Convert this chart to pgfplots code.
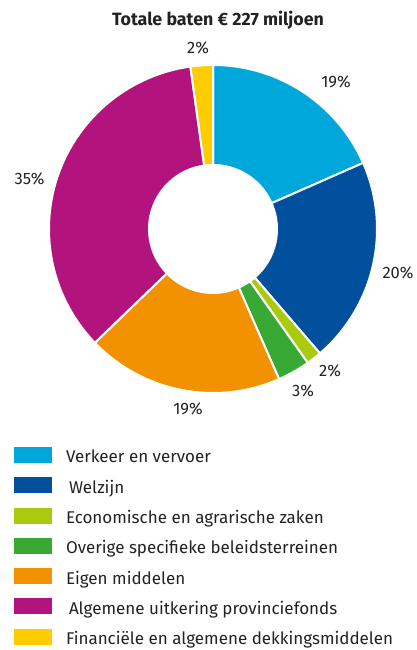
\documentclass[border=0pt]{standalone}
\usepackage{pgfplots}
\usepackage{pgfplotstable}
\pgfplotsset{compat=1.18}
\usepackage{fontspec}
\setmainfont{Fira Sans}
\definecolor{cVerkeer}{HTML}{00A7DA}
\definecolor{cWelzijn}{HTML}{01509D}
\definecolor{cEcon}{HTML}{AACA0E}
\definecolor{cOverig}{HTML}{39A935}
\definecolor{cEigen}{HTML}{F39200}
\definecolor{cAlg}{HTML}{B2137D}
\definecolor{cFin}{HTML}{FFCC00}
\definecolor{cText}{HTML}{222222}
\pgfplotstableread[col sep=comma]{
name,value,color
Verkeer en vervoer,18.4,cVerkeer
Welzijn,20.3,cWelzijn
Economische en agrarische zaken,1.5,cEcon
Overige specifieke beleidsterreinen,3.2,cOverig
Eigen middelen,19.4,cEigen
Algemene uitkering provinciefonds,35.0,cAlg
Financiële en algemene dekkingsmiddelen,2.2,cFin
}\baten
\begin{document}
\begin{tikzpicture}
\begin{axis}[
  width=417pt, height=650pt, scale only axis,
  xmin=0, xmax=417, ymin=0, ymax=650,
  hide axis, clip=false,
  legend style={draw=none, fill=none, at={(axis cs:14,203)}, anchor=north west,
    inner sep=0pt, outer sep=0pt,
    font=\fontsize{17}{20}\selectfont, text=cText, row sep=10.3pt, column sep=14pt,
    nodes={inner sep=0pt, outer sep=0pt, text height=12pt, text depth=4pt}},
  legend cell align=left,
  legend image code/.code={\fill[#1,draw=none] (0pt,-4pt) rectangle (38pt,12pt);},
]
\coordinate (BL) at (axis cs:0,0);
\coordinate (TR) at (axis cs:417,650);
\addlegendimage{fill=cVerkeer}
\addlegendimage{fill=cWelzijn}
\addlegendimage{fill=cEcon}
\addlegendimage{fill=cOverig}
\addlegendimage{fill=cEigen}
\addlegendimage{fill=cAlg}
\addlegendimage{fill=cFin}
\legend{Verkeer en vervoer,\hspace{3pt}Welzijn,Economische en agrarische zaken,Overige specifieke beleidsterreinen,Eigen middelen,\hspace{3pt}Algemene uitkering provinciefonds,Financiële en algemene dekkingsmiddelen}
\def\wAcc{90}
\pgfplotsforeachungrouped \i in {0,...,6}{%
  \pgfplotstablegetelem{\i}{value}\of\baten \let\wV\pgfplotsretval
  \pgfplotstablegetelem{\i}{color}\of\baten \let\wC\pgfplotsretval
  \pgfmathsetmacro\wS{\wAcc}%
  \pgfmathsetmacro\wE{\wAcc-3.6*\wV}%
  \edef\wTemp{\noexpand\fill[\wC, draw=white, line width=2pt] ([shift={(\wS:164pt)}]axis cs:213,421) arc[start angle=\wS, end angle=\wE, radius=164pt] -- ([shift={(\wE:64pt)}]axis cs:213,421) arc[start angle=\wE, end angle=\wS, radius=64pt] -- cycle;}%
  \wTemp
  \global\let\wAcc\wE
}
\node[font=\bfseries\fontsize{17.8}{20}\selectfont, text=cText] at (axis cs:218,630) {Totale baten € 227 miljoen};
\begin{scope}[every node/.style={font=\fontsize{16.5}{18}\selectfont, text=cText}]
\node at (axis cs:336,568) {19\%};
\node at (axis cs:398,377.5) {20\%};
\node at (axis cs:330,279) {2\%};
\node at (axis cs:303,259) {3\%};
\node at (axis cs:188,241) {19\%};
\node at (axis cs:29.5,471.5) {35\%};
\node at (axis cs:198,602) {2\%};
\end{scope}
\end{axis}
\pgfresetboundingbox
\useasboundingbox (BL) rectangle (TR);
\end{tikzpicture}
\end{document}
